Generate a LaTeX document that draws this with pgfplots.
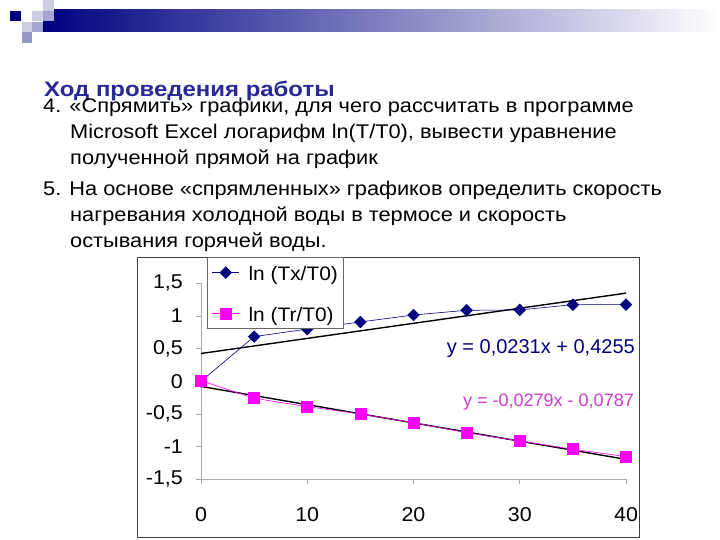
\documentclass[border=0pt]{standalone}
\usepackage{pgfplots}
\pgfplotsset{compat=1.18}
\usepackage{fontspec}
\setmainfont{Liberation Sans}
\definecolor{navy}{RGB}{0,0,128}
\definecolor{mag}{RGB}{255,0,255}
\definecolor{eqmag}{RGB}{205,60,205}
\definecolor{titlec}{RGB}{40,40,150}
\definecolor{sqlight}{RGB}{205,205,228}
\definecolor{sqmid}{RGB}{165,165,210}
\definecolor{sqdark}{RGB}{150,150,200}
\definecolor{axgray}{RGB}{170,170,170}
\newcommand\sx[2]{\scalebox{#1}[1]{#2}}
\newcommand\tl[1]{\scalebox{1.07}[1]{#1}}
\begin{document}
\begin{tikzpicture}[x=1pt,y=1pt]
\fill[white] (0,0) rectangle (720,540);
% top decoration
\shade[left color=navy, right color=white] (43,530) rectangle (720,508);
\fill[navy] (10,529) rectangle (21,519);
\fill[sqlight] (32,529) rectangle (43,519);
\fill[sqlight] (43,540) rectangle (54,529);
\fill[sqmid] (43,529) rectangle (54,519);
\fill[sqlight] (22,518) rectangle (32,508);
\fill[sqmid] (32,518) rectangle (43,508);
\fill[sqdark] (22,508) rectangle (32,497);
% text
\node[anchor=base west, inner sep=0pt, font=\fontsize{21}{24}\selectfont\bfseries, text=titlec] at (44,443) {\sx{1.14}{Ход проведения работы}};
\begin{scope}[every node/.style={anchor=base west, inner sep=0pt, font=\fontsize{19.8}{24}\selectfont}]
\node at (43,427) {\sx{1.1}{4. «Спрямить» графики, для чего рассчитать в программе}};
\node at (70,401) {\sx{1.1}{Microsoft Excel логарифм ln(T/T0), вывести уравнение}};
\node at (70,375) {\sx{1.1}{полученной прямой на график}};
\node at (43,344) {\sx{1.1}{5. На основе «спрямленных» графиков определить скорость}};
\node at (70,318) {\sx{1.1}{нагревания холодной воды в термосе и скорость}};
\node at (70,292) {\sx{1.1}{остывания горячей воды.}};
\end{scope}
% chart frame
\draw[black!75, line width=0.8pt] (137,283) rectangle (639,3);
\begin{axis}[
  at={(201pt,60.7pt)}, anchor=south west,
  scale only axis, width=425pt, height=196pt,
  xmin=0, xmax=40, ymin=-1.5, ymax=1.5,
  axis x line=bottom, axis y line=left,
  axis line style={-, color=axgray, line width=0.8pt},
  tick style={color=axgray, line width=0.8pt},
  tick align=outside, major tick length=5pt,
  xtick={0,10,20,30,40}, xticklabels={\tl{0},\tl{10},\tl{20},\tl{30},\tl{40}},
  ytick={-1.5,-1,-0.5,0,0.5,1,1.5},
  yticklabels={{\tl{-1,5}},{\tl{-1}},{\tl{-0,5}},{\tl{0}},{\tl{0,5}},{\tl{1}},{\tl{1,5}}},
  xticklabel style={font=\fontsize{20}{20}\selectfont, anchor=north, inner sep=0pt, yshift=-23pt},
  yticklabel style={font=\fontsize{20}{20}\selectfont, anchor=east, inner sep=0pt, xshift=-13pt},
  clip=false,
  legend cell align=left,
  legend image code/.code={\draw[mark repeat=2,mark phase=2,#1] plot coordinates {(0pt,0pt) (13.5pt,0pt) (27pt,0pt)};},
  legend style={at={(0.0134,1.1327)}, anchor=north west, draw=black!60, line width=0.6pt, fill=white,
    font=\fontsize{19.5}{20}\selectfont, inner xsep=5pt, inner ysep=5pt, row sep=21pt,
    nodes={inner sep=0pt, text height=18pt, text depth=2pt}, column sep=0pt},
]
\addplot[black, line width=1.4pt, forget plot] coordinates {(0,0.4255) (40,1.3495)};
\addplot[black, line width=1.4pt, forget plot] coordinates {(0,-0.0787) (40,-1.1947)};
\addplot[navy, line width=0.6pt, mark=square*, mark size=4.1pt, mark options={rotate=45, fill=navy, draw=navy}]
 coordinates {(0,0) (5,0.684) (10,0.80) (15,0.908) (20,1.015) (25,1.087) (30,1.092) (35,1.173) (40,1.173)};
\addlegendentry{\hspace{9pt}\sx{1.07}{ln (Tx/T0)}\hspace{17pt}}
\addplot[mag, line width=0.6pt, mark=square*, mark size=5.5pt, mark options={fill=mag, draw=mag}]
 coordinates {(0,0.01) (5,-0.26) (10,-0.388) (15,-0.50) (20,-0.633) (25,-0.786) (30,-0.913) (35,-1.04) (40,-1.153)};
\addlegendentry{\hspace{9pt}\sx{1.07}{ln (Tr/T0)}\hspace{17pt}}
\end{axis}
\node[anchor=east, inner sep=0pt, text=navy, font=\fontsize{20}{20}\selectfont] at (635,191) {y = 0,0231x + 0,4255};
\node[anchor=east, inner sep=0pt, text=eqmag, font=\fontsize{18}{18}\selectfont] at (634,138) {y = -0,0279x - 0,0787};
\end{tikzpicture}
\end{document}
